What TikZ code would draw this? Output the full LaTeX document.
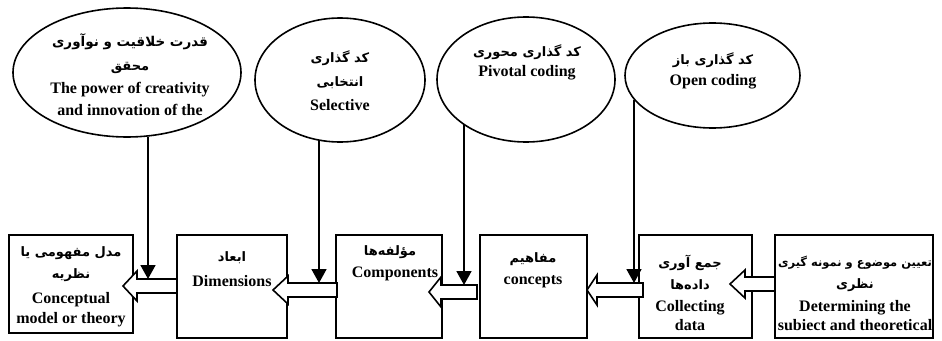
\documentclass[tikz,border=0pt]{standalone}
\usepackage{fontspec}
\setmainfont{Liberation Serif}
\newfontfamily\fa[Script=Arabic]{DejaVu Sans}
\TeXXeTstate=1
\usetikzlibrary{shapes.geometric,arrows.meta}
\tikzset{
 bub/.style={ellipse,draw,line width=1.6pt,inner sep=0},
 blk/.style={rectangle,draw,line width=1.8pt,inner sep=0},
 en/.style={font=\fontsize{16}{18}\selectfont\bfseries,inner sep=0},
 fa/.style={font=\fontsize{13}{15}\selectfont\fa\bfseries,inner sep=0},
 fab/.style={font=\fontsize{13.5}{16}\selectfont\fa\bfseries,inner sep=0},
 fas/.style={font=\fontsize{11.5}{14}\selectfont\fa\bfseries,inner sep=0},
 dn/.style={line width=1.8pt,-{Triangle[width=15pt,length=14pt]}},
 hol/.style={draw,fill=white,line width=1.6pt,line join=miter}
}
\newcommand\fatx[1]{\beginR #1\endR}
\newcommand\holarrow[6]{%
 \draw[hol] (#1,#4) -- (#2,#4-#6) -- (#2,#4-#5) -- (#3,#4-#5) -- (#3,#4+#5) -- (#2,#4+#5) -- (#2,#4+#6) -- cycle;}
\begin{document}
\begin{tikzpicture}[x=1pt,y=-1pt]
\useasboundingbox (0,0) rectangle (942,340);
% ellipses
\node[bub,minimum width=228pt,minimum height=129pt] (e1) at (127,72.5) {};
\node[bub,minimum width=170pt,minimum height=124pt] (e2) at (340,80) {};
\node[bub,minimum width=178pt,minimum height=125pt] (e3) at (526,79.5) {};
\node[bub,minimum width=175pt,minimum height=105pt] (e4) at (712.5,75.5) {};
% boxes
\node[blk,minimum width=124pt,minimum height=98pt] (bA) at (71,284) {};
\node[blk,minimum width=110pt,minimum height=103pt] (bB) at (232,286.5) {};
\node[blk,minimum width=106pt,minimum height=103pt] (bC) at (389,286.5) {};
\node[blk,minimum width=107pt,minimum height=103pt] (bD) at (533.5,286.5) {};
\node[blk,minimum width=113pt,minimum height=103pt] (bE) at (695.5,286.5) {};
\node[blk,minimum width=158pt,minimum height=103pt] (bF) at (854,286.5) {};
% ellipse texts
\node[fab] (t1a) at (130,42) {\fatx{قدرت خلاقیت و نوآوری}};
\node[fa] (t1b) at (130,68) {\fatx{محقق}};
\node[en] (t1c) at (130,90) {The power of creativity};
\node[en] (t1d) at (130,110) {and innovation of the};
\node[fa] (t2a) at (340,58) {\fatx{کد گذاری}};
\node[fa] (t2b) at (340,83) {\fatx{انتخابی}};
\node[en] (t2c) at (340,105) {Selective};
\node[fa] (t3a) at (527,52) {\fatx{کد گذاری محوری}};
\node[en] (t3b) at (527,73) {Pivotal coding};
\node[fa] (t4a) at (713,60) {\fatx{کد گذاری باز}};
\node[en] (t4b) at (713,82) {Open coding};
% box texts
\node[fa] (tAa) at (71,253) {\fatx{مدل مفهومی یا}};
\node[fa] (tAb) at (71,275) {\fatx{نظریه}};
\node[en] (tAc) at (71,300) {Conceptual};
\node[en] (tAd) at (71,320) {model or theory};
\node[fa] (tBa) at (232,258) {\fatx{ابعاد}};
\node[en] (tBb) at (232,281) {Dimensions};
\node[fa] (tCa) at (390,252) {\fatx{مؤلفه‌ها}};
\node[en] (tCb) at (395,274) {Components};
\node[fa] (tDa) at (533,259) {\fatx{مفاهیم}};
\node[en] (tDb) at (533,282) {concepts};
\node[fa] (tEa) at (690,263) {\fatx{جمع آوری}};
\node[fa] (tEb) at (690,285) {\fatx{داده‌ها}};
\node[en] (tEc) at (690,308) {Collecting};
\node[en] (tEd) at (690,325) {data};
\node[fas] (tFa) at (855,263) {\fatx{تعیین موضوع و نمونه گیری}};
\node[fa] (tFb) at (855,285) {\fatx{نظری}};
\node[en] (tFc) at (855,308) {Determining the};
\node[en] (tFd) at (855,325) {subiect and theoretical};
% hollow arrows: tip, back, end, cy, shaft half, head half
\holarrow{123}{137}{177}{286}{7}{15}
\holarrow{273}{288}{337}{290}{7}{14}
\holarrow{429}{441}{477}{292}{7}{15}
\holarrow{587}{597}{643}{290}{7}{15}
\holarrow{730}{745}{775}{284}{7}{14}
% down arrow ends
\coordinate (h1) at (148,279);
\coordinate (h2) at (319,283);
\coordinate (h3) at (464,285);
\coordinate (h4) at (634,283);
\draw[dn] (h1 |- e1.288) -- (h1);
\draw[dn] (h2 |- e2.251) -- (h2);
\draw[dn] (h3 |- e3.216) -- (h3);
\draw[dn] (h4 |- e4.197) -- (h4);
\end{tikzpicture}
\end{document}
